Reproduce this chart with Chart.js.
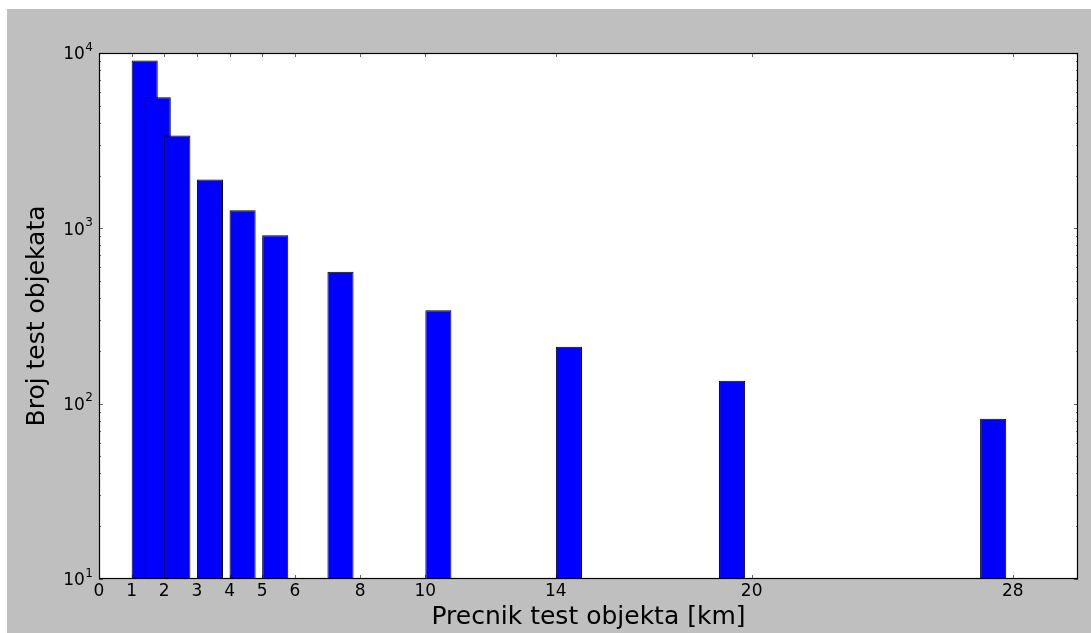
<!DOCTYPE html>
<html>
<head>
<meta charset="utf-8">
<script src="https://cdn.jsdelivr.net/npm/chart.js@4.4.1/dist/chart.umd.min.js"></script>
<style>
html,body{margin:0;padding:0;background:#fff;}
canvas{display:block;}
</style>
</head>
<body>
<canvas id="c" width="1091" height="633"></canvas>
<script>
// ---- data ----
const binEdges = [1, 1.4, 2, 3, 4, 5, 7, 10, 14, 19, 27];
const counts   = [9070, 5600, 3380, 1900, 1270, 913, 566, 341, 211, 135, 82];
const xTicks   = [0, 1, 2, 3, 4, 5, 6, 8, 10, 14, 20, 28];
const yTicks   = [10, 100, 1000, 10000];
const xTitle   = 'Precnik test objekta [km]';
const yTitle   = 'Broj test objekata';

// ---- style ----
const BAR_WIDTH = 0.8;      // in x units (bars are edge aligned)
const FONT = 'DejaVu Sans';
const TICK_SIZE = 17;
const SUP_SIZE = 12;

const centers = binEdges.map(e => e + BAR_WIDTH / 2);
let minGap = Infinity;
for (let i = 1; i < centers.length; i++) minGap = Math.min(minGap, centers[i] - centers[i - 1]);
for (let i = 1; i < xTicks.length; i++) minGap = Math.min(minGap, xTicks[i] - xTicks[i - 1]);

const frame = {
  id: 'frame',
  beforeDraw(chart) {
    const {ctx, chartArea: a} = chart;
    ctx.save();
    ctx.fillStyle = '#ffffff';
    ctx.fillRect(0, 0, chart.width, chart.height);
    ctx.fillStyle = '#bfbfbf';
    ctx.fillRect(7, 9, chart.width - 7, chart.height - 9);
    ctx.fillStyle = '#ffffff';
    ctx.fillRect(a.left, a.top, a.right - a.left, a.bottom - a.top);
    ctx.restore();
  },
  afterDatasetsDraw(chart) {
    const {ctx, chartArea: a, scales} = chart;
    const xs = scales.x, ys = scales.y;
    ctx.save();
    ctx.strokeStyle = 'rgba(0,0,0,0.6)';
    ctx.lineWidth = 1;
    ctx.beginPath();
    xTicks.forEach(v => {
      const px = Math.round(xs.getPixelForValue(v)) + 0.5;
      ctx.moveTo(px, a.bottom); ctx.lineTo(px, a.bottom - 4);
      ctx.moveTo(px, a.top); ctx.lineTo(px, a.top + 4);
    });
    for (let d = ys.min; d < ys.max * 1.0001; d *= 10) {
      for (let m = 1; m <= 9; m++) {
        const v = d * m;
        if (v > ys.max * 1.0001) break;
        const len = m === 1 ? 4 : 2;
        const py = Math.round(ys.getPixelForValue(v)) + 0.5;
        ctx.moveTo(a.left, py); ctx.lineTo(a.left + len, py);
        ctx.moveTo(a.right, py); ctx.lineTo(a.right - len, py);
      }
    }
    ctx.stroke();
    ctx.strokeStyle = '#000';
    ctx.lineWidth = 1.2;
    ctx.strokeRect(a.left + 0.5, a.top + 0.5, a.right - a.left - 1, a.bottom - a.top - 1);

    // y tick labels: 10 with a superscript exponent
    ctx.fillStyle = '#000';
    ctx.textBaseline = 'alphabetic';
    ctx.textAlign = 'right';
    const rightEdge = a.left - 6;
    yTicks.forEach(v => {
      const py = ys.getPixelForValue(v);
      const exp = String(Math.round(Math.log10(v)));
      ctx.font = SUP_SIZE + 'px "' + FONT + '"';
      const supW = ctx.measureText(exp).width;
      const base = py + TICK_SIZE * 0.365;
      ctx.fillText(exp, rightEdge, base - TICK_SIZE * 0.5);
      ctx.font = TICK_SIZE + 'px "' + FONT + '"';
      ctx.fillText('10', rightEdge - supW - 0.5, base);
    });
    ctx.restore();
  }
};

new Chart(document.getElementById('c'), {
  type: 'bar',
  data: {
    datasets: [{
      data: centers.map((c, i) => ({x: c, y: counts[i]})),
      backgroundColor: '#0000ff',
      borderColor: '#000000',
      borderWidth: 1,
      borderSkipped: 'start',
      categoryPercentage: 1,
      barPercentage: BAR_WIDTH / minGap
    }]
  },
  options: {
    responsive: false,
    animation: false,
    events: [],
    layout: {padding: {left: 0, top: 53, right: 13, bottom: 0}},
    plugins: {legend: {display: false}, tooltip: {enabled: false}},
    scales: {
      x: {
        type: 'linear',
        offset: false,
        min: 0, max: 30,
        grid: {display: false, drawTicks: false},
        border: {display: false},
        afterBuildTicks: s => { s.ticks = xTicks.map(v => ({value: v})); },
        afterFit: s => { s.height = 54; },
        ticks: {
          autoSkip: false, maxRotation: 0, padding: 2,
          color: '#000', font: {family: FONT, size: TICK_SIZE},
          callback: v => String(v)
        },
        title: {display: true, text: xTitle, color: '#000',
                font: {family: FONT, size: 25}, padding: {top: 0, bottom: 1}}
      },
      y: {
        type: 'logarithmic',
        min: 10, max: 10000,
        grid: {display: false, drawTicks: false},
        border: {display: false},
        afterBuildTicks: s => { s.ticks = yTicks.map(v => ({value: v, major: true})); },
        afterFit: s => { s.width = 99; },
        ticks: {display: false},
        title: {display: true, text: yTitle, color: '#000',
                font: {family: FONT, size: 25}, padding: {top: 22, bottom: 0}}
      }
    }
  },
  plugins: [frame]
});
</script>
</body>
</html>
